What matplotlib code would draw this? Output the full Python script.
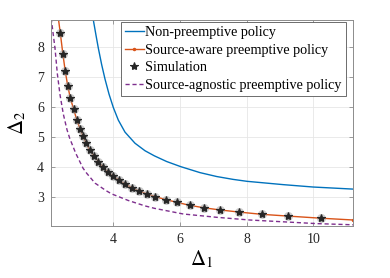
import matplotlib
matplotlib.use("Agg")
import matplotlib.pyplot as plt

# source-agnostic / source-aware / non-preemptive curves
nonpre_x = [3.39, 3.48, 3.55, 3.65, 3.75, 3.87, 4.00, 4.15, 4.35, 4.65, 4.95,
            5.23, 5.60, 6.02, 6.60, 7.10, 7.59, 8.01, 9.09, 9.99, 11.2]
nonpre_y = [8.95, 8.38, 7.95, 7.40, 6.92, 6.42, 5.97, 5.55, 5.15, 4.78, 4.53,
            4.36, 4.17, 4.00, 3.80, 3.67, 3.575, 3.51, 3.40, 3.32, 3.25]

aware_x = [2.35, 2.41, 2.485, 2.555, 2.63, 2.71, 2.81, 2.90, 3.00, 3.09, 3.18,
           3.295, 3.42, 3.55, 3.685, 3.83, 3.995, 4.17, 4.35, 4.555, 4.78,
           5.01, 5.26, 5.57, 5.91, 6.285, 6.705, 7.20, 7.77, 8.445, 9.25,
           10.22, 11.2]
aware_y = [8.95, 8.445, 7.77, 7.20, 6.705, 6.285, 5.91, 5.57, 5.26, 5.01, 4.78,
           4.555, 4.35, 4.17, 3.995, 3.83, 3.685, 3.55, 3.42, 3.295, 3.18,
           3.09, 3.00, 2.90, 2.81, 2.71, 2.63, 2.555, 2.485, 2.41, 2.35,
           2.28, 2.22]

sim_x = [2.41, 2.485, 2.555, 2.63, 2.71, 2.81, 2.90, 3.00, 3.09, 3.18, 3.295,
         3.42, 3.55, 3.685, 3.83, 3.995, 4.17, 4.35, 4.555, 4.78, 5.01, 5.26,
         5.57, 5.91, 6.285, 6.705, 7.20, 7.77, 8.445, 9.25, 10.22]
sim_y = [8.445, 7.77, 7.20, 6.705, 6.285, 5.91, 5.57, 5.26, 5.01, 4.78, 4.555,
         4.35, 4.17, 3.995, 3.83, 3.685, 3.55, 3.42, 3.295, 3.18, 3.09, 3.00,
         2.90, 2.81, 2.71, 2.63, 2.555, 2.485, 2.41, 2.35, 2.28]

agn_x = [2.135, 2.25, 2.32, 2.40, 2.50, 2.61, 2.69, 2.87, 3.09, 3.20, 3.45,
         3.78, 3.95, 4.45, 4.95, 5.23, 6.10, 7.10, 8.09, 9.09, 10.09, 11.2]
agn_y = [8.95, 7.95, 7.10, 6.40, 5.75, 5.23, 4.95, 4.45, 3.95, 3.78, 3.45,
         3.20, 3.09, 2.87, 2.69, 2.61, 2.42, 2.31, 2.22, 2.16, 2.10, 2.06]

labels = ["Non-preemptive policy", "Source-aware preemptive policy",
          "Simulation", "Source-agnostic preemptive policy"]
xticks = [4, 6, 8, 10]
yticks = [3, 4, 5, 6, 7, 8]

plt.rcParams["font.family"] = ["Liberation Serif", "DejaVu Serif"]
plt.rcParams["mathtext.fontset"] = "stix"

fig = plt.figure(figsize=(3.9, 2.78), dpi=100)
ax = fig.add_axes([51 / 390, 52 / 278, 301.7 / 390, 206 / 278])

ax.plot(nonpre_x, nonpre_y, color="#0072BD", lw=1.0, label=labels[0])
ax.plot(aware_x, aware_y, color="#D95319", lw=1.0, marker=".", ms=3,
        label=labels[1])
ax.plot(sim_x, sim_y, ls="none", marker="o", ms=6.5, color="#9a9a9a",
        alpha=0.5, mec="none")
ax.plot(sim_x, sim_y, ls="none", marker="*", ms=6, color="#262626",
        mec="#262626", mew=0.8, label=labels[2])
ax.plot(agn_x, agn_y, color="#7E2F8E", lw=1.0, ls=(0, (3, 2)), label=labels[3])

ax.set_xlim(2.13, 11.18)
ax.set_ylim(2.02, 8.89)
ax.set_xticks(xticks)
ax.set_yticks(yticks)
ax.grid(True, color="#e6e6e6", lw=0.6)
ax.set_axisbelow(True)
ax.tick_params(direction="in", length=3, width=0.6, colors="#8c8c8c",
               labelcolor="#262626", labelsize=10, top=True, right=True,
               pad=5)
for sp in ax.spines.values():
    sp.set_color("#8c8c8c")
    sp.set_linewidth(0.7)

ax.set_xlabel(r"$\Delta_1$", fontsize=15, labelpad=2)
ax.set_ylabel(r"$\Delta_2$", fontsize=15, labelpad=6)

leg = ax.legend(loc="upper right", bbox_to_anchor=(0.978, 0.99),
                borderaxespad=0, fontsize=10.2, handlelength=1.35,
                handletextpad=0.1, labelspacing=0.32, borderpad=0.3,
                fancybox=False, framealpha=1, edgecolor="#555555")
leg.get_frame().set_linewidth(0.6)

fig.savefig("out.png", dpi=100)
